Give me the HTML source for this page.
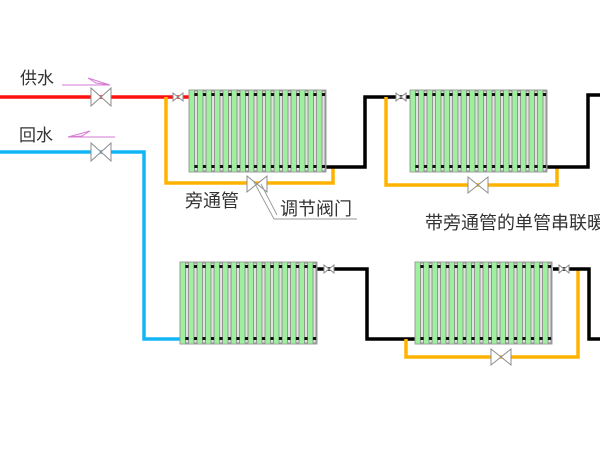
<!DOCTYPE html>
<html><head><meta charset="utf-8"><style>
html,body{margin:0;padding:0;background:#fff;}
svg{display:block;}
text{font-family:"Liberation Sans","Noto Sans CJK SC",sans-serif;fill:#333;}
</style></head><body>
<svg width="600" height="450" viewBox="0 0 600 450" xmlns="http://www.w3.org/2000/svg">
<defs>
<g id="tube">
<rect x="0.5" y="0" width="5" height="82" fill="#9ef09e"/>
<rect x="5.5" y="1" width="3" height="80" fill="#e2e2e2" stroke="#7d7d7d" stroke-width="0.7"/>
<rect x="5.4" y="3" width="3.2" height="3" fill="#111"/>
<rect x="5.4" y="75" width="3.2" height="3" fill="#111"/>
</g>
<g id="rad">
<rect x="0" y="0" width="137" height="82" fill="#c4c4c4" stroke="#999" stroke-width="0.8"/>
<use href="#tube" x="0"/><use href="#tube" x="8.5"/><use href="#tube" x="17"/><use href="#tube" x="25.5"/>
<use href="#tube" x="34"/><use href="#tube" x="42.5"/><use href="#tube" x="51"/><use href="#tube" x="59.5"/>
<use href="#tube" x="68"/><use href="#tube" x="76.5"/><use href="#tube" x="85"/><use href="#tube" x="93.5"/>
<use href="#tube" x="102"/><use href="#tube" x="110.5"/><use href="#tube" x="119"/><use href="#tube" x="127.5"/>
<rect x="0" y="0" width="137" height="82" fill="none" stroke="#999" stroke-width="0.8"/>
</g>
</defs>

<!-- pipes -->
<g fill="none" stroke-width="3.5" stroke-linejoin="miter">
<polyline points="0,97 190,97" stroke="#ff1010"/>
<polyline points="166,97 166,183 333,183 333,167" stroke="#ffb300"/>
<polyline points="326,167 365,167 365,97 411,97" stroke="#000"/>
<polyline points="386,97 386,185 557,185 557,167" stroke="#ffb300"/>
<polyline points="547,167 588,167 588,95 600,95" stroke="#000"/>
<polyline points="0,152 144,152 144,339 181,339" stroke="#12b6f5"/>
<polyline points="317,269 367,269 367,339 416,339" stroke="#000"/>
<polyline points="406,339 406,357 578,357 578,269" stroke="#ffb300"/>
<polyline points="553,269 589,269 589,339 600,339" stroke="#000"/>
</g>

<!-- radiators -->
<use href="#rad" x="189" y="90"/>
<use href="#rad" x="410" y="90"/>
<use href="#rad" x="180" y="262"/>
<use href="#rad" x="415" y="262"/>

<!-- valves -->
<g fill="#fff" stroke="#8c8c8c" stroke-width="1">
<path d="M91,88 L111,106 L111,88 L91,106 Z"/>
<path d="M91,143 L111,161 L111,143 L91,161 Z"/>
<path d="M247,176 L267,192 L267,176 L247,192 Z"/>
<path d="M468,177 L488,193 L488,177 L468,193 Z"/>
<path d="M491,349 L511,365 L511,349 L491,365 Z"/>
<path d="M173,93 L183,101 L183,93 L173,101 Z"/>
<path d="M396,93 L406,101 L406,93 L396,101 Z"/>
<path d="M324,265 L334,273 L334,265 L324,273 Z"/>
<path d="M559,265 L569,273 L569,265 L559,273 Z"/>
</g>

<!-- leader line -->
<g stroke="#999" stroke-width="0.9" fill="none">
<polyline points="254,182 274,219 357,219"/>
<line x1="261" y1="184" x2="277" y2="215"/>
</g>

<!-- flow arrows -->
<g stroke="#d67ad6" stroke-width="1" fill="none">
<line x1="62" y1="85" x2="110" y2="85"/>
<polygon points="110,85 88,78 96,83"/>
<line x1="68" y1="137" x2="115" y2="137"/>
<polygon points="68,137 90,131 82,136"/>
</g>

<!-- labels -->
<text x="20" y="84" font-size="17">供水</text>
<text x="19" y="141" font-size="17">回水</text>
<text x="185" y="207" font-size="18">旁通管</text>
<text x="280" y="215" font-size="18">调节阀门</text>
<text x="425" y="229" font-size="18">带旁通管的单管串联暖气系统</text>
</svg>
</body></html>
